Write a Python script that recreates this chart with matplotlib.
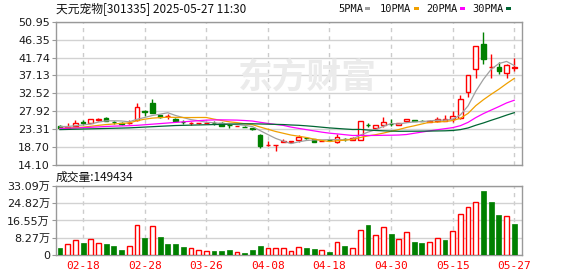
import matplotlib
matplotlib.use('Agg')
import matplotlib.pyplot as plt
from matplotlib.patches import Rectangle

plt.rcParams['font.family'] = ['DejaVu Sans', 'Noto Sans CJK SC']

# trading days shown (02-13 .. 05-27, suspended in early March)
dates = ['02-13', '02-14', '02-17', '02-18', '02-19', '02-20', '02-21', '02-24', '02-25', '02-26',
         '02-27', '02-28', '03-17', '03-18', '03-19', '03-20', '03-21', '03-24', '03-25', '03-26',
         '03-27', '03-28', '03-31', '04-01', '04-02', '04-03', '04-07', '04-08', '04-09', '04-10',
         '04-11', '04-14', '04-15', '04-16', '04-17', '04-18', '04-21', '04-22', '04-23', '04-24',
         '04-25', '04-28', '04-29', '04-30', '05-06', '05-07', '05-08', '05-09', '05-12', '05-13',
         '05-14', '05-15', '05-16', '05-19', '05-20', '05-21', '05-22', '05-23', '05-26', '05-27']
tick_dates = ['02-18', '02-28', '03-26', '04-08', '04-18', '04-30', '05-15', '05-27']

opens = [24.25, 23.7, 24.25, 25.15, 24.85, 25.6, 26.3, 25.1, 24.8, 24.8,
         25.7, 27.9, 30.1, 26.9, 26.7, 26.0, 25.2, 24.9, 24.9, 24.85,
         24.95, 25.0, 24.4, 24.1, 24.0, 23.6, 21.85, 19.15, 19.2, 20.1,
         20.1, 20.5, 21.05, 20.7, 20.35, 20.5, 20.06, 20.8, 20.6, 20.6,
         24.5, 23.5, 24.36, 24.7, 24.5, 25.4, 25.55, 25.5, 25.2, 25.3,
         25.4, 26.0, 26.1, 32.9, 38.8, 45.2, 39.25, 39.2, 37.85, 38.95]
highs = [24.35, 24.8, 25.7, 25.8, 26.0, 26.1, 26.35, 25.5, 25.1, 25.8,
         30.15, 28.3, 31.2, 27.0, 27.2, 26.1, 25.6, 25.2, 25.0, 25.0,
         25.35, 25.05, 24.7, 24.25, 24.1, 23.7, 22.1, 20.3, 19.35, 20.8,
         20.4, 21.9, 21.2, 20.8, 20.5, 20.6, 22.0, 21.1, 21.3, 25.5,
         24.9, 24.4, 26.5, 25.9, 25.0, 26.0, 25.7, 25.6, 25.7, 26.5,
         26.9, 28.1, 32.2, 37.3, 44.8, 48.2, 42.6, 40.5, 40.0, 41.6]
lows = [23.4, 23.6, 24.2, 24.3, 24.8, 25.35, 25.36, 24.7, 24.35, 24.6,
        25.5, 26.6, 27.5, 26.3, 26.0, 25.3, 24.6, 24.5, 24.6, 24.8,
        24.35, 24.15, 23.5, 24.05, 23.8, 23.2, 18.6, 19.1, 17.6, 20.0,
        20.0, 20.0, 20.7, 19.9, 20.2, 20.3, 19.75, 20.4, 20.5, 20.5,
        23.9, 23.15, 24.0, 24.2, 24.5, 25.2, 25.3, 25.3, 25.1, 25.2,
        25.3, 25.1, 26.0, 31.5, 36.4, 40.0, 36.4, 37.5, 36.4, 38.2]
closes = [23.56, 23.8, 24.93, 25.0, 25.96, 25.95, 25.4, 25.05, 24.75, 24.9,
          29.1, 27.8, 27.6, 26.4, 26.8, 25.45, 25.1, 24.95, 24.95, 24.9,
          24.85, 24.2, 24.3, 24.2, 23.9, 23.3, 19.0, 19.25, 19.3, 20.3,
          20.2, 21.25, 20.95, 20.0, 20.4, 20.45, 21.27, 20.7, 21.0, 25.45,
          24.4, 24.35, 25.03, 24.55, 24.95, 25.9, 25.45, 25.4, 25.5, 25.9,
          25.9, 26.6, 31.0, 37.2, 44.7, 41.3, 39.4, 38.35, 39.9, 39.4]

ma5 = [24.0, 24.0, 24.2, 24.4, 24.65, 25.13, 25.45, 25.47, 25.42, 25.21,
       25.84, 26.32, 26.83, 27.16, 27.54, 26.84, 26.3, 25.77, 25.48, 25.1,
       24.95, 24.77, 24.64, 24.49, 24.29, 23.98, 22.94, 21.93, 20.95, 20.23,
       19.61, 20.06, 20.4, 20.54, 20.56, 20.62, 20.62, 20.57, 20.77, 21.78,
       22.56, 23.18, 24.05, 24.76, 24.66, 24.96, 25.18, 25.25, 25.44, 25.63,
       25.63, 25.86, 26.98, 29.32, 33.08, 36.16, 38.72, 40.19, 40.73, 39.67]
ma10 = [23.5, 23.6, 23.7, 23.85, 24.05, 24.3, 24.5, 24.65, 24.8, 24.93,
        25.48, 25.88, 26.15, 26.29, 26.38, 26.34, 26.31, 26.3, 26.32, 26.32,
        25.9, 25.54, 25.2, 24.99, 24.7, 24.47, 23.86, 23.29, 22.72, 22.26,
        21.8, 21.5, 21.17, 20.75, 20.4, 20.12, 20.34, 20.49, 20.66, 21.17,
        21.59, 21.9, 22.31, 22.77, 23.22, 23.76, 24.18, 24.65, 25.1, 25.14,
        25.29, 25.52, 26.12, 27.38, 29.36, 30.9, 32.29, 33.59, 35.03, 36.38]
ma20 = [23.5, 23.55, 23.6, 23.7, 23.8, 23.9, 24.0, 24.1, 24.15, 24.2,
        24.3, 24.45, 24.6, 24.75, 24.9, 25.05, 25.2, 25.35, 25.5, 25.63,
        25.69, 25.71, 25.68, 25.64, 25.54, 25.4, 25.08, 24.79, 24.52, 24.29,
        23.85, 23.52, 23.19, 22.87, 22.55, 22.29, 22.1, 21.89, 21.69, 21.72,
        21.69, 21.7, 21.74, 21.76, 21.81, 21.94, 22.26, 22.57, 22.88, 23.16,
        23.44, 23.71, 24.21, 25.07, 26.29, 27.33, 28.23, 29.12, 30.06, 30.76]
ma30 = [23.2, 23.25, 23.3, 23.35, 23.4, 23.45, 23.5, 23.55, 23.6, 23.65,
        23.75, 23.85, 23.95, 24.05, 24.15, 24.25, 24.3, 24.35, 24.4, 24.45,
        24.5, 24.55, 24.6, 24.65, 24.7, 24.7, 24.65, 24.6, 24.55, 24.5,
        24.39, 24.31, 24.17, 24.01, 23.82, 23.64, 23.5, 23.36, 23.23, 23.25,
        23.09, 22.98, 22.89, 22.83, 22.77, 22.78, 22.79, 22.81, 22.83, 22.86,
        22.89, 22.97, 23.2, 23.63, 24.32, 24.92, 25.6, 26.24, 26.93, 27.56]

# volume in 万手, up = red hollow bar
volumes = [3.5, 5.3, 7.2, 5.9, 7.7, 5.9, 5.3, 4.3, 2.4, 4.3,
           14.4, 8.2, 13.9, 8.6, 5.4, 5.4, 3.8, 3.2, 2.4, 1.9,
           1.9, 1.9, 2.4, 1.4, 1.0, 2.4, 4.3, 3.4, 3.4, 3.4,
           1.9, 3.7, 3.5, 3.0, 2.4, 1.6, 6.2, 4.3, 3.4, 12.0,
           14.4, 9.6, 13.3, 10.2, 7.7, 11.0, 6.4, 5.9, 6.2, 8.2,
           7.3, 11.5, 19.7, 22.9, 25.4, 30.8, 25.4, 19.3, 18.7, 14.9434]
vol_up = [0, 1, 1, 0, 1, 1, 0, 0, 0, 1,
          1, 0, 1, 0, 0, 0, 0, 1, 1, 1,
          0, 0, 0, 1, 0, 0, 0, 1, 1, 1,
          1, 1, 0, 0, 1, 0, 1, 0, 1, 1,
          0, 1, 1, 0, 1, 1, 0, 0, 1, 1,
          0, 1, 1, 1, 1, 0, 0, 0, 1, 0]

price_ticks = [14.10, 18.70, 23.31, 27.92, 32.52, 37.13, 41.74, 46.35, 50.95]
vol_ticks = [0, 8.27, 16.55, 24.82, 33.09]

RED = '#ff0000'
GREEN = '#008000'
FRAME = '#999999'
W, H = 578, 276


def fx(x):
    return x / W


def fy(y):
    return 1 - y / H


fig = plt.figure(figsize=(W / 100, H / 100), dpi=100)
ax = fig.add_axes([fx(55.5), fy(165), fx(522) - fx(55.5), fy(21.7) - fy(165)])
axv = fig.add_axes([fx(55.5), fy(255), fx(522) - fx(55.5), fy(186) - fy(255)])

# watermark
fig.text(fx(307), fy(77), '东方财富', fontsize=25, fontweight='bold', color='#ebebeb',
         ha='center', va='center', family='Noto Sans CJK SC', zorder=0)

xs = list(range(len(dates)))
tick_pos = [dates.index(d) for d in tick_dates]

for i in xs:
    o, h, l, c = opens[i], highs[i], lows[i], closes[i]
    col = RED if c >= o else GREEN
    ax.vlines(i, l, h, color=col, lw=1, zorder=3)
    lo, hi = min(o, c), max(o, c)
    face = 'white' if c >= o else GREEN
    ax.add_patch(Rectangle((i - 0.3, lo), 0.6, max(hi - lo, 0.04),
                           facecolor=face, edgecolor=col, lw=1, zorder=4))

ax.plot(xs, ma5, color='#a0a0a0', lw=0.9, zorder=5)
ax.plot(xs, ma10, color='#f0a000', lw=0.9, zorder=5)
ax.plot(xs, ma20, color='#ff00ff', lw=0.9, zorder=5)
ax.plot(xs, ma30, color='#006633', lw=0.9, zorder=5)

for i in xs:
    if vol_up[i]:
        axv.add_patch(Rectangle((i - 0.3, 0), 0.6, volumes[i], facecolor='white',
                                edgecolor=RED, lw=1, zorder=3))
    else:
        axv.add_patch(Rectangle((i - 0.32, 0), 0.64, volumes[i], facecolor=GREEN,
                                edgecolor=GREEN, lw=0.5, zorder=3))

for a in (ax, axv):
    a.set_xlim(-0.58, 60.0)
    a.set_xticks(tick_pos)
    a.set_axisbelow(True)
    a.grid(axis='y', color='#d2d2d2', lw=1, ls='-')
    a.grid(axis='x', color='#cccccc', lw=1, ls=(0, (3, 3)))
    for s in a.spines.values():
        s.set_color(FRAME)
        s.set_linewidth(1)
    a.tick_params(axis='y', length=3, width=0.8, color=FRAME, pad=1,
                  labelsize=8, labelcolor='#1a1a1a')
    a.tick_params(axis='x', length=0)

ax.set_ylim(14.10, 50.95)
ax.set_yticks(price_ticks)
ax.set_yticklabels(['%.2f' % t for t in price_ticks])
ax.set_xticklabels([])

axv.set_ylim(0, 33.09)
axv.set_yticks(vol_ticks)
axv.set_yticklabels(['0'] + ['%.2f万' % t for t in vol_ticks[1:]])
axv.set_xticklabels(tick_dates, color=RED, fontsize=8, family='DejaVu Sans Mono')
axv.tick_params(axis='x', pad=4)

# title and legend
fig.text(fx(56), fy(9.5), '天元宠物[301335] 2025-05-27 11:30', fontsize=8.5,
         family=['Noto Sans CJK SC', 'DejaVu Sans'], ha='left', va='center', color='#111111')
legend_items = [('5PMA', 338, '#a0a0a0'), ('10PMA', 380, '#f0a000'),
                ('20PMA', 426, '#ff00ff'), ('30PMA', 472, '#006633')]
for name, x0, col in legend_items:
    t = fig.text(fx(x0), fy(9), name, fontsize=7.5, family='DejaVu Sans Mono',
                 ha='left', va='center', color='#111111')
    x1 = x0 + 6.1 * len(name) + 3
    fig.add_artist(Rectangle((fx(x1), fy(10.2)), 5 / W, 3 / H, transform=fig.transFigure,
                             facecolor=col, edgecolor='none'))

fig.text(fx(56), fy(177.5), '成交量:149434', fontsize=8.5,
         family=['Noto Sans CJK SC', 'DejaVu Sans'], ha='left', va='center', color='#111111')

fig.savefig('out.png', dpi=100)
